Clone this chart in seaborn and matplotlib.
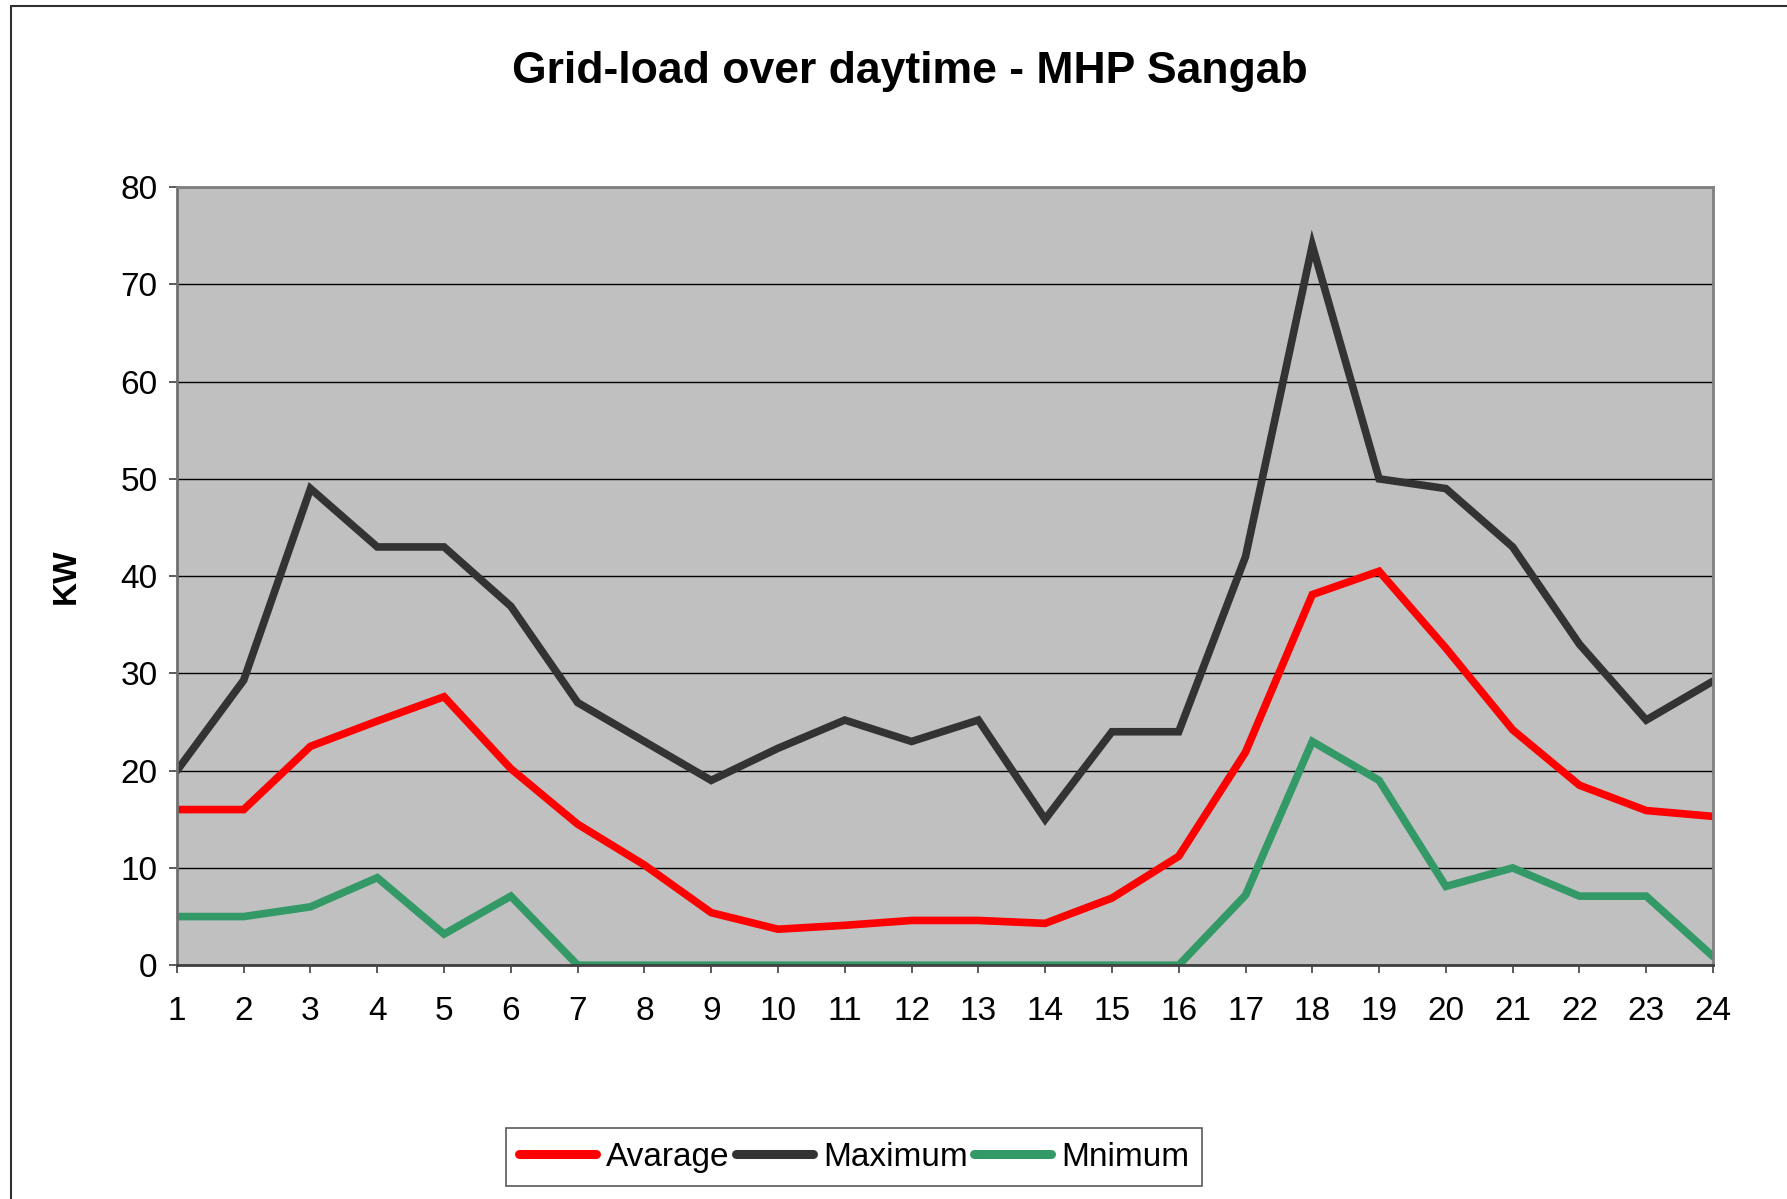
import matplotlib
matplotlib.use("Agg")
import matplotlib.pyplot as plt
from matplotlib.lines import Line2D
import seaborn as sns
import pandas as pd

hours = list(range(1, 25))
average = [16.0, 16.0, 22.5, 25.1, 27.6, 20.2, 14.5, 10.3, 5.4, 3.7, 4.1, 4.6,
           4.6, 4.3, 6.9, 11.2, 21.9, 38.1, 40.5, 32.6, 24.2, 18.5, 15.9, 15.3]
maximum = [20, 29.3, 49, 43, 43, 36.9, 27, 23, 19, 22.3, 25.2, 23, 25.2, 15,
           24, 24, 42, 74, 50, 49, 43, 33, 25.2, 29.2]
minimum = [5, 5, 6, 9, 3.2, 7.1, 0, 0, 0, 0, 0, 0, 0, 0, 0, 0, 7.2, 23, 19,
           8.1, 10, 7.1, 7.1, 0.9]
series_names = ["Avarage", "Maximum", "Mnimum"]
yticks = [0, 10, 20, 30, 40, 50, 60, 70, 80]

df = pd.DataFrame({
    "hour": hours * 3,
    "value": average + maximum + minimum,
    "series": [series_names[0]] * 24 + [series_names[1]] * 24 + [series_names[2]] * 24,
})

sns.set_theme(style="white")
plt.rcParams["font.family"] = ["Liberation Sans", "DejaVu Sans"]
plt.rcParams["text.color"] = "black"
plt.rcParams["axes.labelcolor"] = "black"

fig = plt.figure(figsize=(17.87, 11.99), dpi=100)
ax = fig.add_axes([0.099, 0.195, 0.8596, 0.649])
ax.set_facecolor("#C0C0C0")

palette = {"Avarage": "#FF0000", "Maximum": "#333333", "Mnimum": "#339966"}
sns.lineplot(data=df, x="hour", y="value", hue="series", palette=palette,
             linewidth=5.5, ax=ax, legend=False, sort=False)
for ln in ax.get_lines():
    ln.set_solid_capstyle("round")
    ln.set_solid_joinstyle("miter")

ax.set_xlim(1, 24)
ax.set_ylim(0, 80)
ax.set_xticks(hours)
ax.set_xticklabels([str(h) for h in hours])
ax.set_yticks(yticks)
ax.yaxis.grid(True, color="black", linewidth=1.0)
ax.xaxis.grid(False)
ax.set_axisbelow(True)
ax.tick_params(axis="both", direction="out", length=6, width=1.2,
               color="#404040", labelsize=24, labelcolor="black")
ax.tick_params(axis="x", pad=16)
ax.tick_params(axis="y", pad=8)
ax.tick_params(bottom=True, left=True)
for s in ["top", "right"]:
    ax.spines[s].set_color("#808080")
    ax.spines[s].set_linewidth(2)
ax.spines["left"].set_color("#707070")
ax.spines["left"].set_linewidth(2)
ax.spines["bottom"].set_color("#404040")
ax.spines["bottom"].set_linewidth(2)

ax.set_xlabel("")
ax.set_ylabel("KW", fontsize=24, fontweight="bold", color="black")
ax.yaxis.set_label_coords(-0.062, 0.5)

fig.text(0.509, 0.940, "Grid-load over daytime - MHP Sangab", ha="center",
         va="center", fontsize=32, fontweight="bold", color="black")

handles = [Line2D([0], [0], color=palette[n], linewidth=6.5, solid_capstyle="round")
           for n in series_names]
leg = fig.legend(handles, series_names, loc="center", bbox_to_anchor=(0.478, 0.035),
                 ncol=3, fontsize=24, frameon=True, fancybox=False,
                 handlelength=2.3, handletextpad=0.3, columnspacing=0.2,
                 borderpad=0.4, borderaxespad=0)
for t in leg.get_texts():
    t.set_color("black")
leg.get_frame().set_edgecolor("#303030")
leg.get_frame().set_linewidth(1.2)
leg.get_frame().set_facecolor("white")

# figure border (left and top edges visible)
fig.add_artist(Line2D([0.0062, 0.0062], [0, 0.995], transform=fig.transFigure,
                      color="#303030", linewidth=1.5))
fig.add_artist(Line2D([0.0062, 1.0], [0.995, 0.995], transform=fig.transFigure,
                      color="#303030", linewidth=1.5))

fig.savefig("out.png", dpi=100, facecolor="white")
